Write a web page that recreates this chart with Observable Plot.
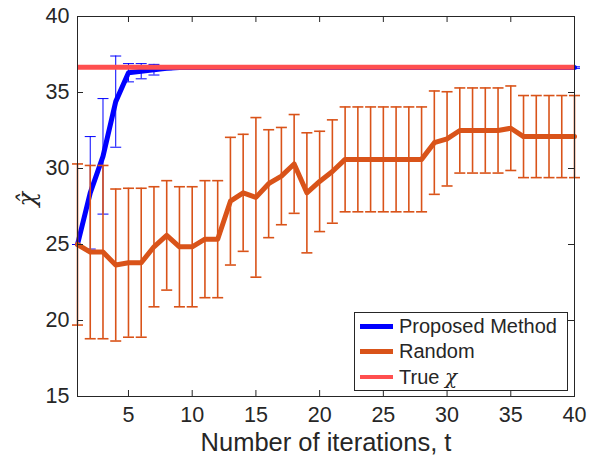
<!DOCTYPE html>
<html><head><meta charset="utf-8">
<script src="https://cdn.jsdelivr.net/npm/d3@7"></script>
<script src="https://cdn.jsdelivr.net/npm/@observablehq/plot@0.6"></script>
<style>
body{margin:0;background:#fff;}
#wrap{position:relative;width:601px;height:462px;font-family:"Liberation Sans",Arial,Helvetica,sans-serif;color:#262626;}
#legend{position:absolute;left:354px;top:312px;width:212px;height:77px;border:1px solid #262626;background:#fff;}
.row{position:absolute;left:5px;height:25px;display:flex;align-items:center;font-size:20px;}
.sw{width:33px;height:5px;margin-right:6px;}
</style></head><body><div id="wrap"><div id="chart"></div>
<div id="legend"></div></div>
<script>
const iterations = [1,2,3,4,5,6,7,8,9,10,11,12,13,14,15,16,17,18,19,20,21,22,23,24,25,26,27,28,29,30,31,32,33,34,35,36,37,38,39,40];
const proposedMean = [25.0,28.4,30.8,34.4,36.3,36.4,36.5,36.6,36.64,36.64,36.64,36.64,36.64,36.64,36.64,36.64,36.64,36.64,36.64,36.64,36.64,36.64,36.64,36.64,36.64,36.64,36.64,36.64,36.64,36.64,36.64,36.64,36.64,36.64,36.64,36.64,36.64,36.64,36.64,36.64];
const proposedErr = [0,3.7,3.8,3.0,0.6,0.5,0.35,0.1,0.08,0.05,0.05,0.05,0.05,0.05,0.05,0.05,0.05,0.05,0.05,0.05,0.05,0.05,0.05,0.05,0.05,0.05,0.05,0.05,0.05,0.05,0.05,0.05,0.05,0.05,0.05,0.05,0.05,0.05,0.05,0.05];
const randomMean = [25.0,24.5,24.5,23.65,23.8,23.8,24.85,25.6,24.85,24.85,25.35,25.35,27.85,28.4,28.1,29.0,29.5,30.3,28.4,29.15,29.8,30.6,30.6,30.6,30.6,30.6,30.6,30.6,31.7,31.95,32.5,32.5,32.5,32.5,32.65,32.1,32.1,32.1,32.1,32.1];
const randomErr = [5.3,5.7,5.7,5.0,4.9,4.9,3.95,3.6,3.95,3.95,3.85,3.85,4.2,3.85,5.25,3.55,3.2,3.25,3.95,3.3,3.4,3.45,3.45,3.45,3.45,3.45,3.45,3.45,3.4,3.1,2.8,2.8,2.8,2.8,2.78,2.7,2.7,2.7,2.7,2.7];
const trueChi = 36.66;
const xTicks = [5,10,15,20,25,30,35,40];
const yTicks = [15,20,25,30,35,40];
const seriesNames = ["Proposed Method","Random","True χ"];
const colors = ["#0000FF","#D95319","#FF4F4F"];

const W = 601, H = 462, mL = 77, mR = 27, mT = 16, mB = 66;
const fw = W - mL - mR, fh = H - mT - mB, tk = 6;

const prop = iterations.map((x,i)=>({x, m: proposedMean[i], e: proposedErr[i]}));
const rnd = iterations.map((x,i)=>({x, m: randomMean[i], e: randomErr[i]}));

const cap = {draw(ctx){ ctx.moveTo(-5.5,0); ctx.lineTo(5.5,0); }};

function bars(data, color, sw){
  return [
    Plot.ruleX(data, {x:"x", y1:d=>d.m-d.e, y2:d=>d.m+d.e, stroke:color, strokeWidth:sw}),
    Plot.dot(data, {x:"x", y:d=>d.m+d.e, symbol:cap, r:3, fill:"none", stroke:color, strokeWidth:sw}),
    Plot.dot(data, {x:"x", y:d=>d.m-d.e, symbol:cap, r:3, fill:"none", stroke:color, strokeWidth:sw})
  ];
}

const chart = Plot.plot({
  width: W, height: H, marginLeft: mL, marginRight: mR, marginTop: mT, marginBottom: mB,
  style: {fontFamily: '"Liberation Sans",Arial,Helvetica,sans-serif', fontSize: "22px", color: "#262626", background: "#fff", overflow: "visible"},
  x: {domain: [1,40]},
  y: {domain: [15,40]},
  marks: [
    ...bars(prop, colors[0], 1),
    Plot.line(prop, {x:"x", y:"m", stroke:colors[0], strokeWidth:5}),
    ...bars(rnd, colors[1], 1.6),
    Plot.line(rnd, {x:"x", y:"m", stroke:colors[1], strokeWidth:5}),
    Plot.ruleY([trueChi], {y:d=>d, stroke:colors[2], strokeWidth:5}),
    Plot.frame({stroke:"#262626", strokeWidth:1}),
    Plot.tickX(xTicks, {x:d=>d, insetTop: fh-tk, stroke:"#262626"}),
    Plot.tickX(xTicks, {x:d=>d, insetBottom: fh-tk, stroke:"#262626"}),
    Plot.tickY(yTicks, {y:d=>d, insetRight: fw-tk, stroke:"#262626"}),
    Plot.tickY(yTicks, {y:d=>d, insetLeft: fw-tk, stroke:"#262626"}),
    Plot.axisX(xTicks, {tickSize:0, tickPadding:10, label:null, fontSize:21.5}),
    Plot.axisY(yTicks, {tickSize:0, tickPadding:8, label:null, fontSize:21.5}),
    Plot.text(["Number of iterations, t"], {frameAnchor:"bottom", dy:54, fontSize:25.5, fill:"#262626"}),
    Plot.text(["χ̂"], {frameAnchor:"left", dx:-50, rotate:-90, fontSize:24, fontStyle:"italic", fontFamily:'"DejaVu Serif",serif', fill:"#262626"})
  ]
});
document.getElementById("chart").appendChild(chart);

const lg = document.getElementById("legend");
seriesNames.forEach((n,i)=>{
  const r = document.createElement("div");
  r.className = "row";
  r.style.top = (1 + i*25) + "px";
  const s = document.createElement("div");
  s.className = "sw"; s.style.background = colors[i];
  if (i===2) s.style.height = "4px";
  const t = document.createElement("span");
  if (i===2) { t.innerHTML = 'True <i style="font-family:\'DejaVu Serif\',serif">χ</i>'; }
  else t.textContent = n;
  r.appendChild(s); r.appendChild(t);
  lg.appendChild(r);
});
</script></body></html>
